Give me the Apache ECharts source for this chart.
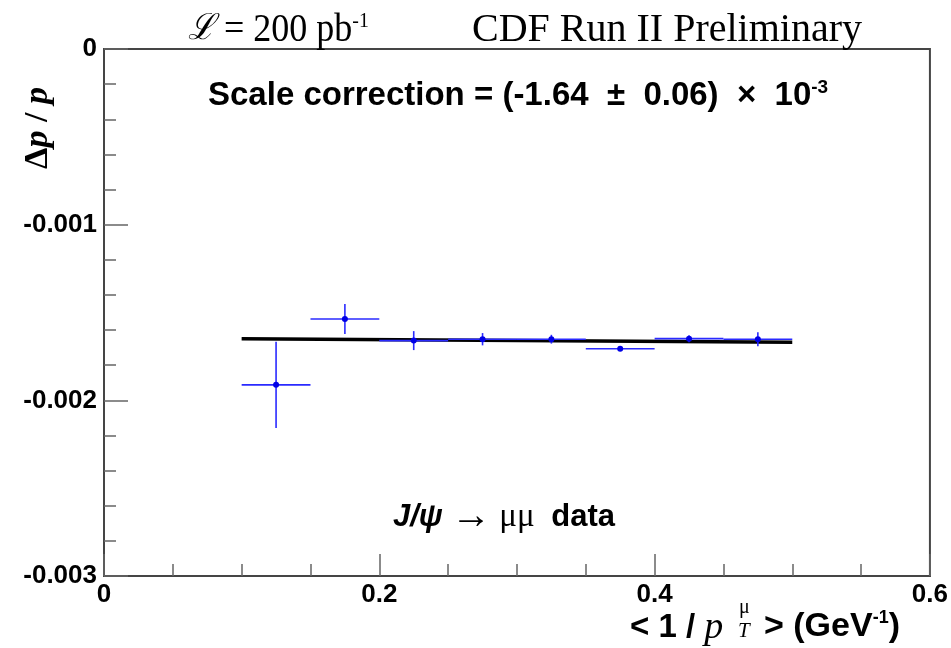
<!DOCTYPE html>
<html>
<head>
<meta charset="utf-8">
<script src="https://cdn.jsdelivr.net/npm/echarts@6/dist/echarts.min.js"></script>
<style>
  html, body { margin: 0; padding: 0; background: #fff; }
  #chart { width: 951px; height: 648px; }
</style>
</head>
<body>
<div id="chart"></div>
<script>
// J/psi -> mumu momentum scale: delta p / p vs <1/pT>
var binCenters = [0.125, 0.175, 0.225, 0.275, 0.325, 0.375, 0.425, 0.475];
var binHalfWidth = [0.025, 0.025, 0.025, 0.025, 0.025, 0.025, 0.025, 0.025];
var deltaP = [-0.001912, -0.001537, -0.001660, -0.001652, -0.001652, -0.001706, -0.001649, -0.001652];
var deltaPErr = [0.000245, 0.000085, 0.000054, 0.000035, 0.000025, 0.000010, 0.000020, 0.000040];
var fitX = [0.1, 0.5];
var fitY = [-0.00165, -0.00167];
var xTickLabels = ['0', '0.2', '0.4', '0.6'];
var yTickLabels = ['-0.003', '-0.002', '-0.001', '0'];

var SANS = 'Liberation Sans, Arial, sans-serif';
var SERIF = 'Liberation Serif, Times New Roman, serif';
var AXIS = '#454545';

var points = binCenters.map(function (x, i) {
  return [x, deltaP[i], binHalfWidth[i], deltaPErr[i]];
});

// cross-shaped error bar + dot for each bin
function errorCross(params, api) {
  var x = api.value(0), y = api.value(1), ex = api.value(2), ey = api.value(3);
  var l = api.coord([x - ex, y]), r = api.coord([x + ex, y]);
  var t = api.coord([x, y + ey]), b = api.coord([x, y - ey]);
  var c = api.coord([x, y]);
  var st = { stroke: '#2a2aff', lineWidth: 1.6 };
  return {
    type: 'group',
    children: [
      { type: 'line', shape: { x1: l[0], y1: l[1], x2: r[0], y2: r[1] }, style: st },
      { type: 'line', shape: { x1: t[0], y1: t[1], x2: b[0], y2: b[1] }, style: st },
      { type: 'circle', shape: { cx: c[0], cy: c[1], r: 3 }, style: { fill: '#0000e6' } }
    ]
  };
}

var chart = echarts.init(document.getElementById('chart'), null, { renderer: 'canvas' });

chart.setOption({
  animation: false,
  backgroundColor: '#fff',
  grid: {
    left: 104, right: 19, top: 49, bottom: 72,
    show: true, borderColor: AXIS, borderWidth: 2, backgroundColor: 'transparent'
  },
  xAxis: {
    type: 'value', min: 0, max: 0.6, interval: 0.2, position: 'bottom',
    axisLine: { show: true, onZero: false, lineStyle: { color: AXIS, width: 2 } },
    axisTick: { show: true, inside: true, length: 22, lineStyle: { color: '#666', width: 1.5 } },
    minorTick: { show: true, splitNumber: 4, length: 12, lineStyle: { color: '#666', width: 1.5 } },
    splitLine: { show: false },
    axisLabel: {
      margin: 6, color: '#000', fontFamily: SANS, fontWeight: 'bold', fontSize: 26,
      formatter: function (v) { return xTickLabels[Math.round(v / 0.2)]; }
    }
  },
  yAxis: {
    type: 'value', min: -0.003, max: 0, interval: 0.001,
    axisLine: { show: true, onZero: false, lineStyle: { color: AXIS, width: 2 } },
    axisTick: { show: true, inside: true, length: 24, lineStyle: { color: '#666', width: 1.5 } },
    minorTick: { show: true, splitNumber: 5, length: 12, lineStyle: { color: '#666', width: 1.5 } },
    splitLine: { show: false },
    axisLabel: {
      margin: 7, color: '#000', fontFamily: SANS, fontWeight: 'bold', fontSize: 26,
      formatter: function (v) { return yTickLabels[Math.round((v + 0.003) / 0.001)]; }
    }
  },
  series: [
    {
      type: 'line', z: 2, symbol: 'none', silent: true,
      data: fitX.map(function (x, i) { return [x, fitY[i]]; }),
      lineStyle: { color: '#000', width: 3.5 }
    },
    {
      type: 'custom', z: 3, silent: true,
      renderItem: errorCross,
      data: points
    }
  ],
  graphic: [
    {
      type: 'text', x: 188, y: 10, scaleX: 0.9,
      style: {
        text: '{s|ℒ} = 200 pb{sup|-1}',
        font: '40px ' + SERIF, fill: '#000',
        rich: {
          s: { font: 'italic 36px DejaVu Serif, serif' },
          sup: { font: '22px ' + SERIF, padding: [0, 0, 18, 0] }
        }
      }
    },
    {
      type: 'text', x: 472, y: 10,
      style: { text: 'CDF Run II Preliminary', font: '40px ' + SERIF, fill: '#000' }
    },
    {
      type: 'text', left: 208, top: 78,
      style: {
        text: 'Scale correction = (-1.64  ±  0.06)  ×  10{sup|-3}',
        font: 'bold 33px ' + SANS, fill: '#000',
        rich: { sup: { font: 'bold 19px ' + SANS, padding: [0, 0, 16, 0] } }
      }
    },
    {
      type: 'text', left: 393, top: 497,
      style: {
        text: '{i|J/ψ} {a|→} μμ  {b|data}',
        font: '33px ' + SERIF, fill: '#000',
        rich: {
          i: { font: 'italic bold 31px ' + SANS },
          a: { font: '40px ' + SERIF },
          b: { font: 'bold 31px ' + SANS }
        }
      }
    },
    {
      type: 'text', x: 38, y: 128, rotation: Math.PI / 2,
      style: {
        text: 'Δ{p|p} / {p|p}',
        font: 'bold 34px ' + SERIF, fill: '#000', align: 'center', verticalAlign: 'middle',
        rich: { p: { font: 'italic bold 34px ' + SERIF } }
      }
    },
    {
      type: 'text', left: 630, top: 609,
      style: {
        text: '< 1 / {p|p}',
        font: 'bold 33px ' + SANS, fill: '#000',
        rich: { p: { font: 'italic 38px ' + SERIF } }
      }
    },
    {
      type: 'text', left: 739, top: 598,
      style: { text: 'μ', font: '20px ' + SERIF, fill: '#000' }
    },
    {
      type: 'text', left: 738, top: 621,
      style: { text: 'T', font: 'italic 21px ' + SERIF, fill: '#000' }
    },
    {
      type: 'text', left: 764, top: 609,
      style: {
        text: '> (GeV{sup|-1})',
        font: 'bold 34px ' + SANS, fill: '#000',
        rich: { sup: { font: 'bold 18px ' + SANS, padding: [0, 0, 18, 0] } }
      }
    }
  ]
});
</script>
</body>
</html>
